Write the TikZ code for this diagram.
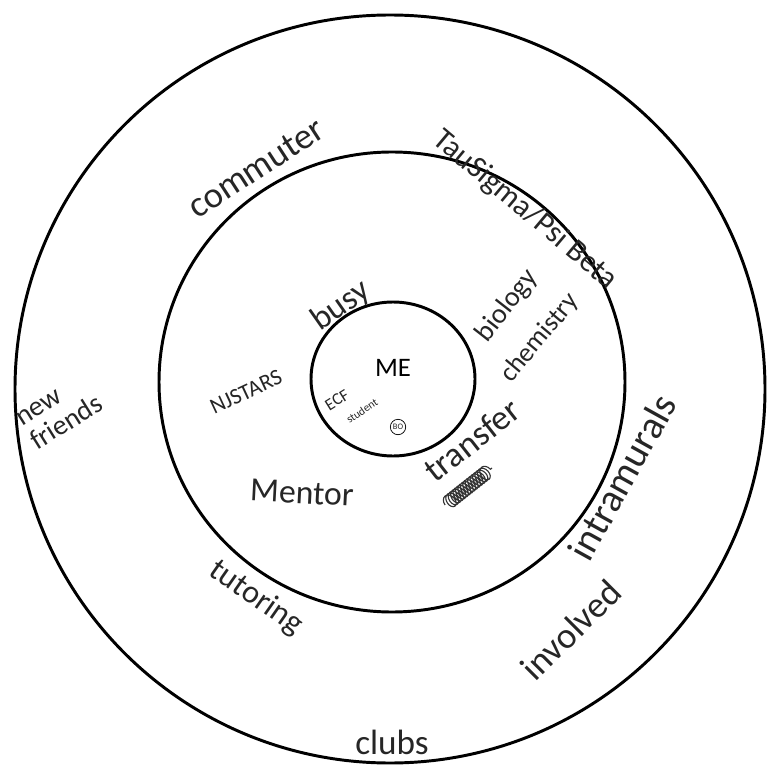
\documentclass[tikz,border=0pt]{standalone}
\usepackage{fontspec}
\setmainfont{Carlito}
\usetikzlibrary{decorations.pathmorphing}
\tikzset{
  ring/.style={draw=black, line width=2.1pt},
  hand/.style={inner sep=0pt, text=black!85},
  scribble/.style={draw=black!80, line width=0.8pt,
    decorate, decoration={coil, aspect=0.7, segment length=2.2pt, amplitude=5pt}}
}
\newcommand{\fs}[1]{\fontsize{#1}{#1}\selectfont}

\begin{document}
\begin{tikzpicture}[x=0.025cm, y=-0.025cm]
  \useasboundingbox (0,0) rectangle (769,767);

  % rings
  \draw[ring] (390,389) ellipse [x radius=375, y radius=374];
  \draw[ring] (392,382) ellipse [x radius=233, y radius=230];
  \draw[ring] (393,379) ellipse [x radius=82, y radius=77];

  % centre
  \node[hand, font=\fs{19}, text=black] (me) at (393,368) {ME};
  \node[hand, font=\fs{12}, rotate=32] (ecf) at (337,400) {ECF};
  \node[hand, font=\fs{8}, rotate=34] (student) at (362,411) {student};
  \node[hand, font=\fs{6}, draw, circle, inner sep=1pt, line width=0.5pt] (bo) at (398,427) {BO};

  % middle ring
  \node[hand, font=\fs{24}, rotate=35] (busy) at (341,306) {busy};
  \node[hand, font=\fs{20}, rotate=52] (biology) at (507,306) {biology};
  \node[hand, font=\fs{19}, rotate=50] (chemistry) at (540,338) {chemistry};
  \node[hand, font=\fs{16}, rotate=25] (njstars) at (246,392) {NJSTARS};
  \node[hand, font=\fs{25}, rotate=38] (transfer) at (472,440) {transfer};
  \coordinate (scrA) at (445,505);
  \coordinate (scrB) at (492,468);
  \draw[scribble] (scrA) -- (scrB);
  \node[hand, font=\fs{24}, rotate=-3] (mentor) at (302,493) {Mentor};

  % outer ring
  \node[hand, font=\fs{26}, rotate=33] (commuter) at (256,168) {commuter};
  \node[hand, font=\fs{22}, rotate=-40] (tausigma) at (525,210) {TauSigma/Psi Beta};
  \node[hand, font=\fs{20}, rotate=32, align=left] (friends) at (60,412) {new\\friends};
  \node[hand, font=\fs{23}, rotate=-35] (tutoring) at (256,598) {tutoring};
  \node[hand, font=\fs{28}, rotate=61] (intramurals) at (622,477) {intramurals};
  \node[hand, font=\fs{26}, rotate=45] (involved) at (571,630) {involved};
  \node[hand, font=\fs{25}] (clubs) at (392,742) {clubs};
\end{tikzpicture}
\end{document}
